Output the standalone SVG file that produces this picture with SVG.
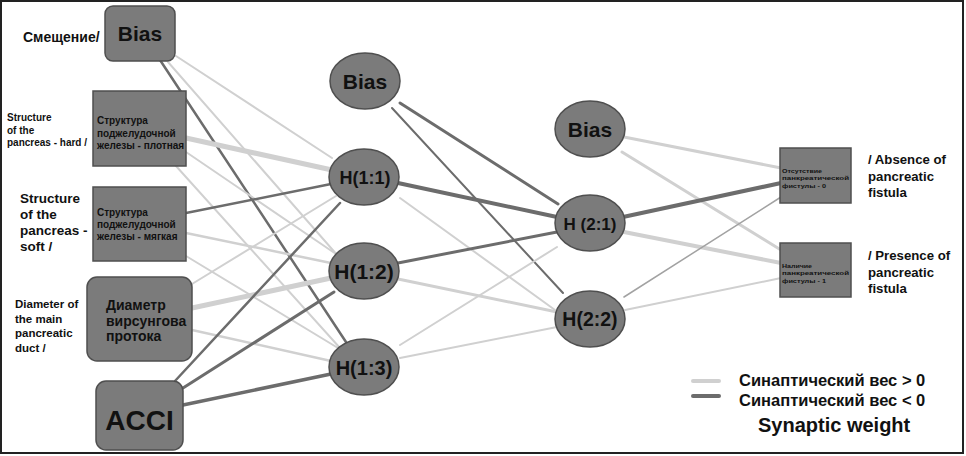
<svg xmlns="http://www.w3.org/2000/svg" width="966" height="456" viewBox="0 0 966 456">
<style>
text{font-family:"Liberation Sans",Arial,sans-serif;font-weight:bold;fill:#111}
.nd{fill:#7b7b7b;stroke:#4f4f4f;stroke-width:1.5}
.c{text-anchor:middle}
.sm{font-size:6.2px}
.pos{stroke:#d0d0d0;fill:none;stroke-linecap:round}
.neg{stroke:#6c6c6c;fill:none;stroke-linecap:round}
.mid{stroke:#a2a2a2;fill:none;stroke-linecap:round}
</style>
<rect x="0" y="0" width="966" height="456" fill="#fff"/>
<rect x="1" y="1" width="962" height="452" fill="none" stroke="#222" stroke-width="2"/>
<g id="connectors">
<line class="pos" x1="176" y1="56" x2="332" y2="158" stroke-width="2"/>
<line class="pos" x1="168" y1="62" x2="338" y2="256" stroke-width="2"/>
<line class="neg" x1="160" y1="60" x2="346" y2="342" stroke-width="2.5"/>
<line class="pos" x1="186" y1="138" x2="332" y2="170" stroke-width="5"/>
<line class="pos" x1="186" y1="152" x2="336" y2="254" stroke-width="2"/>
<line class="pos" x1="176" y1="166" x2="340" y2="348" stroke-width="2"/>
<line class="neg" x1="186" y1="213" x2="331" y2="184" stroke-width="2.5"/>
<line class="pos" x1="186" y1="233" x2="331" y2="263" stroke-width="2.5"/>
<line class="pos" x1="186" y1="256" x2="338" y2="348" stroke-width="2"/>
<line class="pos" x1="192" y1="284" x2="336" y2="196" stroke-width="2"/>
<line class="pos" x1="192" y1="308" x2="331" y2="278" stroke-width="5"/>
<line class="pos" x1="192" y1="330" x2="331" y2="361" stroke-width="2.5"/>
<line class="neg" x1="175" y1="381" x2="340" y2="203" stroke-width="2.5"/>
<line class="neg" x1="183" y1="388" x2="334" y2="292" stroke-width="3"/>
<line class="neg" x1="183" y1="405" x2="331" y2="374" stroke-width="3.5"/>
<line class="neg" x1="400" y1="103" x2="558" y2="204" stroke-width="3"/>
<line class="neg" x1="392" y1="108" x2="563" y2="293" stroke-width="2"/>
<line class="neg" x1="398" y1="183" x2="557" y2="217" stroke-width="4"/>
<line class="pos" x1="400" y1="198" x2="555" y2="310" stroke-width="2"/>
<line class="neg" x1="398" y1="263" x2="557" y2="232" stroke-width="3"/>
<line class="pos" x1="398" y1="279" x2="557" y2="312" stroke-width="3"/>
<line class="pos" x1="400" y1="345" x2="557" y2="247" stroke-width="2"/>
<line class="pos" x1="400" y1="358" x2="557" y2="327" stroke-width="2"/>
<line class="pos" x1="624" y1="137" x2="781" y2="168" stroke-width="3"/>
<line class="pos" x1="622" y1="152" x2="781" y2="250" stroke-width="3"/>
<line class="neg" x1="623" y1="217" x2="781" y2="183" stroke-width="4"/>
<line class="pos" x1="624" y1="232" x2="781" y2="263" stroke-width="4"/>
<line class="mid" x1="624" y1="297" x2="781" y2="197" stroke-width="1.5"/>
<line class="pos" x1="625" y1="310" x2="781" y2="278" stroke-width="2"/>
</g>
<g id="bias-in">
<rect class="nd" x="105" y="6" width="70" height="55" rx="8"/>
<text class="c" x="140" y="41" font-size="21">Bias</text>
<text x="23" y="42" font-size="14">Смещение/</text>
</g>
<g id="structure-hard">
<rect class="nd" x="93" y="91" width="93" height="75"/>
<text x="97" y="124" font-size="10">Структура</text>
<text x="97" y="137" font-size="10">поджелудочной</text>
<text x="97" y="149" font-size="10">железы - плотная</text>
<text x="7" y="121" font-size="10">Structure</text>
<text x="7" y="133.5" font-size="10">of the</text>
<text x="7" y="146" font-size="10">pancreas - hard /</text>
</g>
<g id="structure-soft">
<rect class="nd" x="93" y="187" width="93" height="74"/>
<text x="97" y="216" font-size="10">Структура</text>
<text x="97" y="228" font-size="10">поджелудочной</text>
<text x="97" y="240" font-size="10">железы - мягкая</text>
<text x="20" y="203" font-size="13.5">Structure</text>
<text x="20" y="219" font-size="13.5">of the</text>
<text x="20" y="235" font-size="13.5">pancreas -</text>
<text x="20" y="251" font-size="13.5">soft /</text>
</g>
<g id="diameter">
<rect class="nd" x="87" y="277" width="105" height="84" rx="10"/>
<text x="106" y="310" font-size="14">Диаметр</text>
<text x="106" y="325.5" font-size="14">вирсунгова</text>
<text x="106" y="341" font-size="14">протока</text>
<text x="15" y="308" font-size="11.5">Diameter of</text>
<text x="15" y="322.5" font-size="11.5">the main</text>
<text x="15" y="337" font-size="11.5">pancreatic</text>
<text x="15" y="351.5" font-size="11.5">duct /</text>
</g>
<g id="acci">
<rect class="nd" x="96" y="381" width="87" height="69" rx="10"/>
<text class="c" x="139.5" y="430" font-size="28">ACCI</text>
</g>
<g id="bias-h1">
<ellipse class="nd" cx="365" cy="81" rx="35" ry="28"/>
<text class="c" x="365" y="89" font-size="21">Bias</text>
</g>
<g id="h11">
<ellipse class="nd" cx="364" cy="177" rx="35" ry="28"/>
<text class="c" x="365" y="183.5" font-size="18">H(1:1)</text>
</g>
<g id="h12">
<ellipse class="nd" cx="364" cy="271" rx="35" ry="28"/>
<text class="c" x="364" y="279" font-size="21">H(1:2)</text>
</g>
<g id="h13">
<ellipse class="nd" cx="364" cy="367" rx="35" ry="28"/>
<text class="c" x="364" y="374.5" font-size="20">H(1:3)</text>
</g>
<g id="bias-h2">
<ellipse class="nd" cx="590" cy="129" rx="35" ry="28"/>
<text class="c" x="590" y="137" font-size="21">Bias</text>
</g>
<g id="h21">
<ellipse class="nd" cx="590" cy="223" rx="35" ry="28"/>
<text class="c" x="590" y="229.5" font-size="17">H (2:1)</text>
</g>
<g id="h22">
<ellipse class="nd" cx="590" cy="319" rx="35" ry="28"/>
<text class="c" x="590" y="326" font-size="19.5">H(2:2)</text>
</g>
<g id="out-absence">
<rect class="nd" x="780" y="148" width="71" height="55"/>
<text class="sm" x="782" y="172.5" textLength="40" lengthAdjust="spacingAndGlyphs">Отсутствие</text>
<text class="sm" x="782" y="180" textLength="67" lengthAdjust="spacingAndGlyphs">панкреатической</text>
<text class="sm" x="782" y="187.5" textLength="44" lengthAdjust="spacingAndGlyphs">фистулы - 0</text>
<text x="868" y="164" font-size="13.2">/ Absence of</text>
<text x="868" y="180.5" font-size="13.2">pancreatic</text>
<text x="868" y="196.5" font-size="13.2">fistula</text>
</g>
<g id="out-presence">
<rect class="nd" x="780" y="243" width="71" height="54"/>
<text class="sm" x="782" y="267.5" textLength="30" lengthAdjust="spacingAndGlyphs">Наличие</text>
<text class="sm" x="782" y="275" textLength="67" lengthAdjust="spacingAndGlyphs">панкреатической</text>
<text class="sm" x="782" y="282.5" textLength="44" lengthAdjust="spacingAndGlyphs">фистулы - 1</text>
<text x="868" y="260" font-size="13.2">/ Presence of</text>
<text x="868" y="276.5" font-size="13.2">pancreatic</text>
<text x="868" y="292.5" font-size="13.2">fistula</text>
</g>
<g id="legend">
<line class="pos" x1="693" y1="381" x2="719" y2="381" stroke-width="4"/>
<line class="neg" x1="693" y1="396" x2="719" y2="396" stroke-width="4"/>
<text x="739" y="386" font-size="16.5">Синаптический вес &gt; 0</text>
<text x="739" y="405.5" font-size="16.5">Синаптический вес &lt; 0</text>
<text x="758" y="432" font-size="20">Synaptic weight</text>
</g>
</svg>
